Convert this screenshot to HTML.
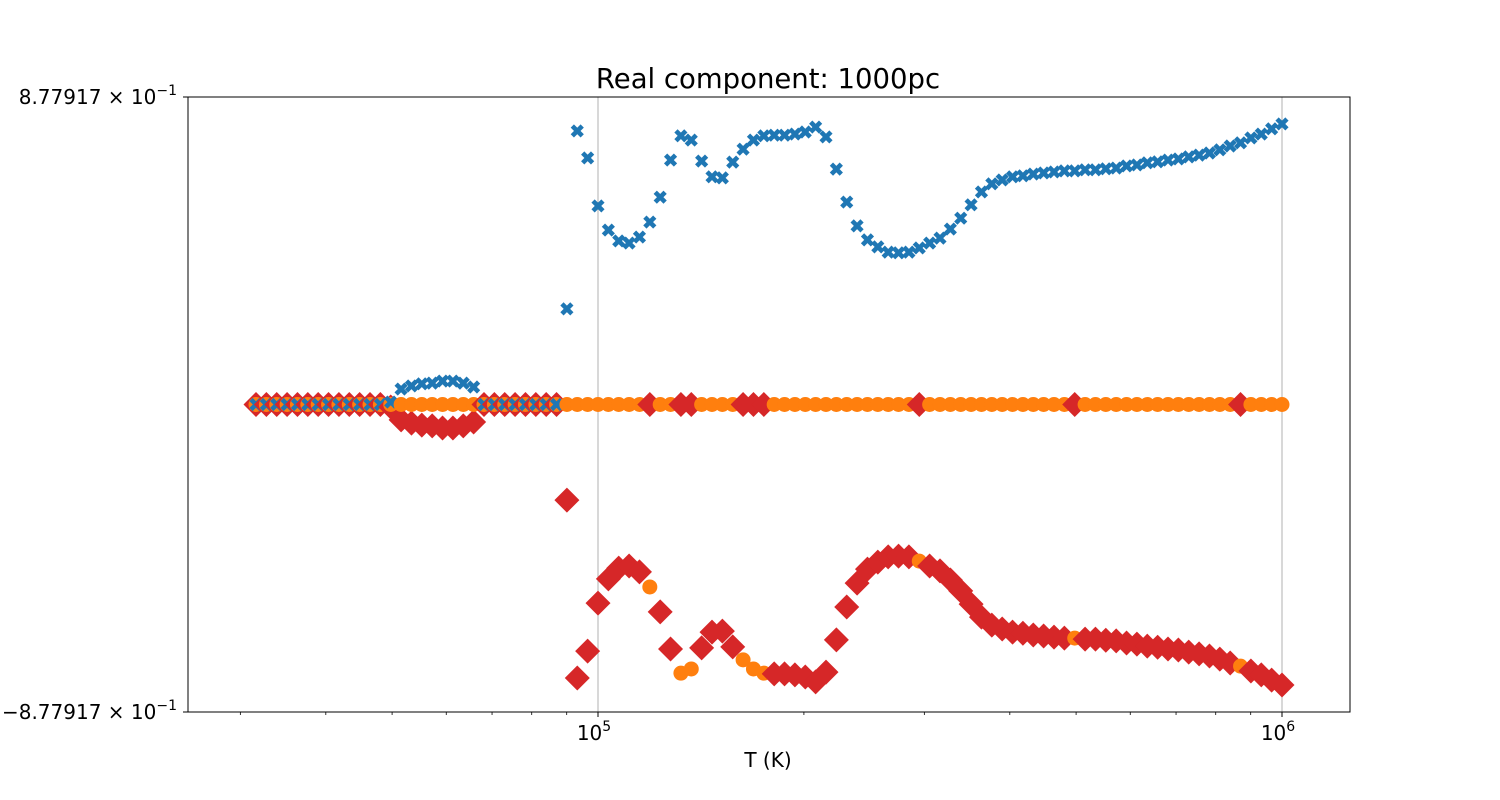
<!DOCTYPE html>
<html><head><meta charset="utf-8"><style>
body{margin:0;background:#fff;}
svg{display:block;font-family:"DejaVu Sans","Liberation Sans",sans-serif;}
</style></head><body>
<svg id="chart" width="1500" height="800" viewBox="0 0 1500 800" xmlns="http://www.w3.org/2000/svg">
<rect width="1500" height="800" fill="#fff"/>
<text x="768" y="88" font-size="27.5" text-anchor="middle">Real component: 1000pc</text>
<g id="grid"></g>
<g id="marks"></g>
<rect x="188" y="97" width="1162" height="615" fill="none" stroke="#000" stroke-width="1"/>
<g id="axes"></g>
<text x="768" y="767" font-size="20" text-anchor="middle">T (K)</text>
</svg>
<script>
const logTMin = 4.5, logTMax = 6.0, nPoints = 100;
const blueVals = [0,0,0,0,0,0,0,0,0,0,0,0,0,0.007,0.044,0.053,0.059,0.061,0.067,0.067,0.061,0.050,0,0,0,0,0,0,0,0,
0.273,0.781,0.704,0.567,0.498,0.467,0.461,0.478,0.521,0.592,0.698,0.767,0.755,0.695,0.650,0.647,0.692,0.729,0.755,0.767,
0.769,0.769,0.772,0.778,0.792,0.764,0.672,0.578,0.510,0.470,0.450,0.435,0.433,0.435,0.447,0.461,0.475,0.501,0.532,0.570,
0.607,0.630,0.641,0.650,0.653,0.658,0.661,0.664,0.667,0.667,0.670,0.670,0.673,0.675,0.681,0.684,0.690,0.693,0.698,0.701,
0.707,0.712,0.718,0.727,0.738,0.747,0.761,0.772,0.787,0.801];
const orangeIdx = [38,41,42,47,48,49,64,79,95];
const yTickVals = [0.877917, -0.877917];
const yTickLabels = ["8.77917", "\u22128.77917"];
const xMajor = [5, 6];
const xMajorLabels = ["5", "6"];

const NS = "http://www.w3.org/2000/svg";
const X0 = 188, X1 = 1350, Y0 = 97, Y1 = 712;
const xLogMin = 5 - 410/684, xLogMax = 6 + 68/684;
const yMin = -0.877917, yMax = 0.877917;
function xs(lt){ return X0 + (lt - xLogMin)/(xLogMax - xLogMin)*(X1 - X0); }
function ys(v){ return Y1 - (v - yMin)/(yMax - yMin)*(Y1 - Y0); }
function mk(tag, attrs, parent){ const e = document.createElementNS(NS, tag); for (const k in attrs) e.setAttribute(k, attrs[k]); parent.appendChild(e); return e; }

const logT = []; for (let i=0;i<nPoints;i++) logT.push(logTMin + (logTMax-logTMin)*i/(nPoints-1));
const redVals = blueVals.map((v,i)=> orangeIdx.includes(i) ? 0 : -v);
const orangeVals = blueVals.map((v,i)=> orangeIdx.includes(i) ? -v : 0);

const grid = document.getElementById('grid'), axes = document.getElementById('axes'), marks = document.getElementById('marks');
xMajor.forEach((m,k)=>{
  const x = xs(m);
  const g = mk('line',{x1:x,x2:x,y1:Y0,y2:Y1,stroke:'#b0b0b0','stroke-width':1},grid);
  
  
  const t = mk('line',{x1:x,x2:x,y1:Y1,y2:Y1+5,stroke:'#000','stroke-width':1},axes);
  
  
  const tx = mk('text',{x:x-4,y:Y1+28,'font-size':20,'text-anchor':'middle'},axes);
  
  
  tx.textContent = '10';
  const sp = mk('tspan',{dy:-9,'font-size':14},tx); sp.textContent = xMajorLabels[k];
});
for (let d=4; d<=6; d++) for (let k=2;k<=9;k++){
  const lt = d + Math.log10(k);
  if (lt < xLogMin || lt > xLogMax) continue;
  const x = xs(lt);
  const t = mk('line',{x1:x,x2:x,y1:Y1,y2:Y1+3,stroke:'#000','stroke-width':0.8},axes);
  
  
}
yTickVals.forEach((v,k)=>{
  const y = ys(v);
  const t = mk('line',{x1:X0-5,x2:X0,y1:y,y2:y,stroke:'#000','stroke-width':1},axes);
  
  
  const tx = mk('text',{x:X0-11,y:y+7,'font-size':20,'text-anchor':'end'},axes);
  
  
  tx.textContent = yTickLabels[k] + ' \u00d7 10';
  const sp = mk('tspan',{dy:-9,'font-size':14},tx); sp.textContent = '\u22121';
});

for (let i=0;i<nPoints;i++){
  const x = xs(logT[i]);
  const yr = ys(redVals[i]), r = 12.5;
  const p = mk('polygon',{points:`${x},${yr-r} ${x+r},${yr} ${x},${yr+r} ${x-r},${yr}`,fill:'#d62728'},marks);
  
  
  const c = mk('circle',{cx:x,cy:ys(orangeVals[i]),r:7.5,fill:'#ff7f0e'},marks);
  
  
  const g = mk('g',{transform:`translate(${x},${ys(blueVals[i])}) rotate(45)`,fill:'#1f77b4'},marks);
  
  
  mk('rect',{x:-7,y:-2.3,width:14,height:4.6},g);
  mk('rect',{x:-2.3,y:-7,width:4.6,height:14},g);
}
</script>
</body></html>
